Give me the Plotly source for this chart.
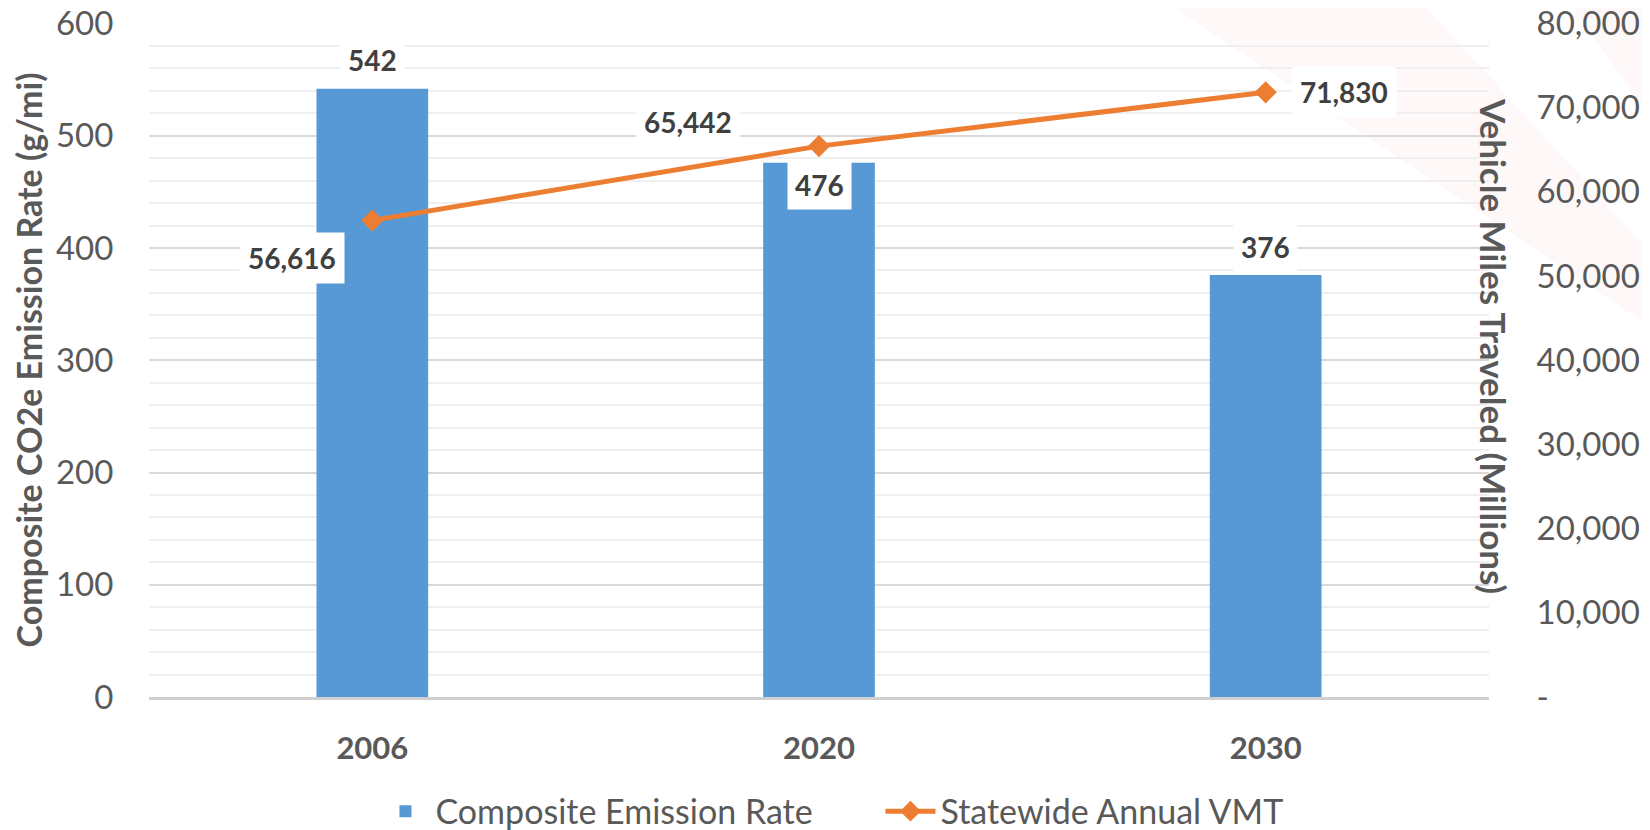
import plotly.graph_objects as go

# ---- data ----
years = ["2006", "2020", "2030"]
emission_rate = [542, 476, 376]          # g/mi (left axis)
vmt = [56616, 65442, 71830]              # millions (right axis)
vmt_ticks = [0, 10000, 20000, 30000, 40000, 50000, 60000, 70000, 80000]
vmt_ticktext = ["-", "10,000", "20,000", "30,000", "40,000", "50,000", "60,000", "70,000", "80,000"]

# label offsets (styling only)
bar_label_shift = [29, -22, 28]
vmt_label_xshift = [-80, -131, 78]
vmt_label_yshift = [-38, 24, 0]

FONT = "Lato, Carlito, Calibri, sans-serif"
GRAY = "#595959"
LABEL = "#404040"

fig = go.Figure()
fig.add_trace(go.Bar(
    x=years, y=emission_rate, name="Composite Emission Rate",
    marker=dict(color="#5699d5", line=dict(width=0)),
    width=0.25, yaxis="y",
))
fig.add_trace(go.Scatter(
    x=years, y=vmt, name="Statewide Annual VMT", yaxis="y2",
    mode="lines+markers",
    line=dict(color="#ED7D31", width=5),
    marker=dict(symbol="diamond", size=17, color="#ED7D31"),
))

annotations = []
for i, (v, s) in enumerate(zip(emission_rate, bar_label_shift)):
    annotations.append(dict(
        x=i, y=v, xref="x", yref="y", text=f"<b>{v:,}</b>", showarrow=False,
        yshift=s, font=dict(family=FONT, size=28, color=LABEL),
        bgcolor="white", borderpad=7,
    ))
for i, (v, xs, ys) in enumerate(zip(vmt, vmt_label_xshift, vmt_label_yshift)):
    annotations.append(dict(
        x=i, y=v, xref="x", yref="y2", text=f"<b>{v:,}</b>", showarrow=False,
        xshift=xs, yshift=ys, font=dict(family=FONT, size=28, color=LABEL),
        bgcolor="white", borderpad=8,
    ))
# right axis title (reads top-to-bottom)
annotations.append(dict(
    x=1.0, y=0.5, xref="paper", yref="paper", xanchor="center", yanchor="middle",
    xshift=5, yshift=14,
    text="<b>Vehicle Miles Traveled (Millions)</b>", textangle=90,
    showarrow=False, font=dict(family=FONT, size=35, color=GRAY),
))

# faint watermark in the top-right corner
shapes = [
    dict(type="path", xref="paper", yref="paper", layer="below",
         path="M 0.76,1.03 L 0.95,1.03 L 1.12,0.66 L 1.12,0.55 Z",
         fillcolor="rgba(225,70,80,0.035)", line=dict(width=0)),
    dict(type="path", xref="paper", yref="paper", layer="below",
         path="M 1.06,1.03 L 1.12,1.03 L 1.12,0.86 Z",
         fillcolor="rgba(225,70,80,0.04)", line=dict(width=0)),
]

fig.update_layout(
    width=1642, height=822,
    margin=dict(l=141, r=161, t=15, b=133, autoexpand=False),
    paper_bgcolor="white", plot_bgcolor="rgba(0,0,0,0)",
    font=dict(family=FONT, color=GRAY),
    showlegend=True,
    legend=dict(orientation="h", x=0.169, xanchor="left", y=-0.17, yanchor="middle",
                font=dict(family=FONT, size=34, color=GRAY), itemwidth=50,
                entrywidth=440, entrywidthmode="pixels",
                traceorder="normal"),
    xaxis=dict(
        type="category", range=[-0.5, 2.5], showgrid=False, showline=True,
        linecolor="#d0d0d0", linewidth=3,
        ticks="outside", ticklen=22, tickcolor="rgba(0,0,0,0)",
        tickfont=dict(family=FONT, size=31, color=GRAY, weight="bold"),
    ),
    yaxis=dict(
        range=[0, 600.5], tickvals=[0, 100, 200, 300, 400, 500, 600],
        showgrid=True, gridcolor="#d9d9d9", gridwidth=1.5,
        minor=dict(dtick=20, showgrid=True, gridcolor="#efefef", gridwidth=1.5),
        zeroline=False, showline=False,
        ticks="outside", ticklen=28, tickcolor="rgba(0,0,0,0)",
        tickfont=dict(family=FONT, size=33, color=GRAY),
        ticklabeloverflow="allow",
        title=dict(text="<b>Composite CO2e Emission Rate (g/mi)</b>",
                   font=dict(family=FONT, size=34, color=GRAY), standoff=6),
    ),
    yaxis2=dict(
        range=[0, 80066], overlaying="y", side="right", showgrid=False, zeroline=False,
        tickvals=vmt_ticks, ticktext=vmt_ticktext,
        ticks="outside", ticklen=40, tickcolor="rgba(0,0,0,0)",
        tickfont=dict(family=FONT, size=33, color=GRAY),
        ticklabeloverflow="allow",
    ),
    annotations=annotations,
    shapes=shapes,
    bargap=0.75,
)

fig.write_html("out.html")
